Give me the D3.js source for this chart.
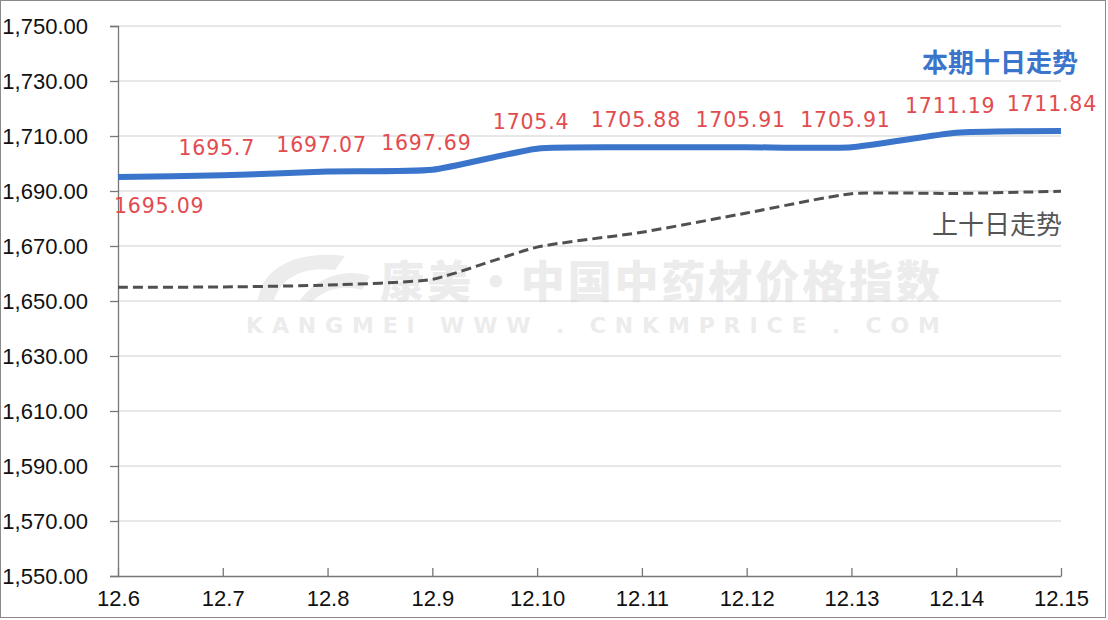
<!DOCTYPE html>
<html><head><meta charset="utf-8">
<script src="https://cdn.jsdelivr.net/npm/d3@7"></script>
<style>body{margin:0;background:#fff;}svg{display:block;}</style>
</head><body>
<svg id="c" width="1108" height="620"></svg>
<script>
const categories = ["12.6","12.7","12.8","12.9","12.10","12.11","12.12","12.13","12.14","12.15"];
const currentValues = [1695.09,1695.7,1697.07,1697.69,1705.4,1705.88,1705.91,1705.91,1711.19,1711.84];
const currentLabels = ["1695.09","1695.7","1697.07","1697.69","1705.4","1705.88","1705.91","1705.91","1711.19","1711.84"];
const previousValues = [1655.0,1655.1,1655.8,1657.9,1669.6,1675.0,1682.0,1689.0,1689.1,1689.9];
const yTicks = [1550,1570,1590,1610,1630,1650,1670,1690,1710,1730,1750];
const seriesNames = ["本期十日走势","上十日走势"];

const svg = d3.select("#c");
svg.append("rect").attr("x",0.5).attr("y",0.5).attr("width",1105).attr("height",617)
  .attr("fill","#fff").attr("stroke","#8a8a8a");

const x = d3.scalePoint().domain(categories).range([118,1061]);
const y = d3.scaleLinear().domain([1550,1750]).range([576,26]);

// watermark
const wm = svg.append("g").attr("fill","#ececec");
wm.append("text").attr("x",380).attr("y",298).attr("font-family","Noto Sans CJK SC").attr("font-weight","900")
  .attr("font-size",44).attr("textLength",560).text("康美·中国中药材价格指数");
wm.append("text").attr("x",246).attr("y",333).attr("font-family","DejaVu Sans").attr("font-weight","bold")
  .attr("font-size",22).attr("textLength",694).text("KANGMEI WWW . CNKMPRICE . COM");
wm.append("path").attr("d","M258,300 C262,266 300,250 345,256 L335,270 C305,266 282,276 274,300 Z");
wm.append("path").attr("d","M300,300 C318,276 345,268 370,276 L362,290 C342,284 322,290 312,302 Z");

// grid
svg.append("g").selectAll("line").data(yTicks.slice(1)).join("line")
  .attr("x1",118).attr("x2",1061).attr("y1",d=>y(d)).attr("y2",d=>y(d))
  .attr("stroke","#cfcfcf").attr("stroke-width",1.2);

// y axis
const ya = svg.append("g").attr("transform","translate(118,0)")
  .call(d3.axisLeft(y).tickValues(yTicks).tickSize(8).tickPadding(22).tickFormat(d3.format(",.2f")));
ya.select(".domain").attr("stroke","#777").attr("stroke-width",1.3);
ya.selectAll(".tick line").attr("stroke","#777").attr("stroke-width",1.3);
ya.selectAll("text").attr("font-family","Liberation Sans, Arial").attr("font-size",22).attr("fill","#111");

// x axis
const xa = svg.append("g").attr("transform","translate(0,576)")
  .call(d3.axisBottom(x).tickSize(-8).tickPadding(14).tickSizeOuter(0));
xa.select(".domain").attr("stroke","#777").attr("stroke-width",1.5);
xa.selectAll(".tick line").attr("stroke","#777").attr("stroke-width",1.3);
xa.selectAll("text").attr("font-family","Liberation Sans, Arial").attr("font-size",22).attr("fill","#111");

const line = d3.line().x((d,i)=>x(categories[i])).y(d=>y(d)).curve(d3.curveCardinal.tension(0.45));

svg.append("path").attr("d",line(previousValues)).attr("fill","none")
  .attr("stroke","#505050").attr("stroke-width",3).attr("stroke-dasharray","10,5");
svg.append("path").attr("d",line(currentValues)).attr("fill","none")
  .attr("stroke","#3a74cb").attr("stroke-width",6);

// data labels
svg.append("g").selectAll("text").data(currentValues).join("text")
  .attr("x",(d,i)=> i===0 ? x(categories[i])-4 : (i===categories.length-1 ? x(categories[i])+36 : x(categories[i])-6))
  .attr("y",(d,i)=> i===0 ? y(d)+36 : y(d)-20)
  .attr("text-anchor",(d,i)=> i===0 ? "start" : (i===categories.length-1 ? "end" : "middle"))
  .attr("font-family","DejaVu Sans").attr("font-size",20.5).attr("letter-spacing",0.8).attr("fill","#e24b4f")
  .text((d,i)=>currentLabels[i]);

// series names
svg.append("text").attr("x",1078).attr("y",72).attr("text-anchor","end")
  .attr("font-family","Noto Sans CJK SC").attr("font-weight","bold").attr("font-size",26)
  .attr("fill","#3a74cb").text(seriesNames[0]);
svg.append("text").attr("x",1062).attr("y",234).attr("text-anchor","end")
  .attr("font-family","Noto Sans CJK SC").attr("font-size",26)
  .attr("fill","#555").text(seriesNames[1]);
</script>
</body></html>
